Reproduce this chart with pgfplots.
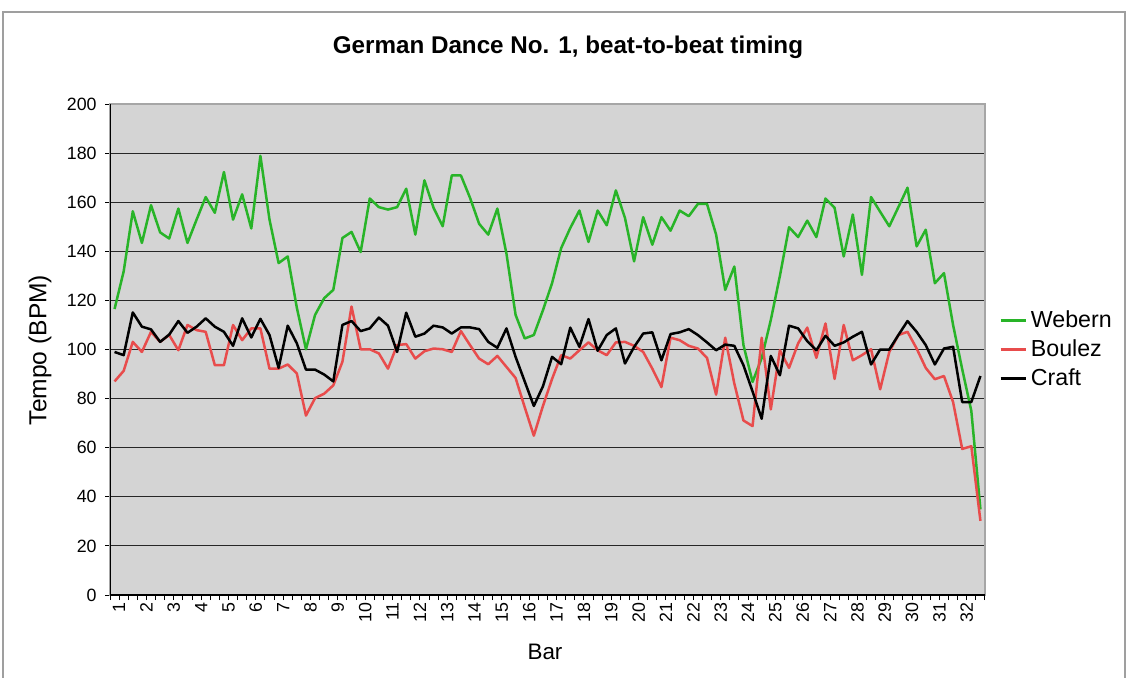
\documentclass[border=0pt]{standalone}
\usepackage{fontspec}
\setmainfont{Liberation Sans}
\usepackage{pgfplots}
\pgfplotsset{compat=1.18}
\usepackage{pgfplotstable}

\definecolor{webern}{RGB}{40,180,40}
\definecolor{boulez}{RGB}{232,76,76}
\definecolor{plotbg}{RGB}{212,212,212}

\pgfplotstableread{
i W B C
0 116.5 87.0 99.0
1 131.8 91.3 97.7
2 156.3 103.1 115.1
3 143.4 99.0 109.3
4 158.8 107.2 108.2
5 147.7 103.1 103.1
6 145.2 105.9 106.1
7 157.4 99.7 111.6
8 143.4 110.0 106.8
9 152.9 107.9 109.3
10 162.1 107.2 112.7
11 155.7 93.6 109.3
12 172.3 93.6 107.2
13 152.9 110.0 101.5
14 163.2 103.8 112.7
15 149.3 108.6 104.9
16 178.9 108.6 112.5
17 152.9 92.2 105.9
18 135.2 92.2 92.5
19 137.9 93.9 109.7
20 117.0 90.2 102.5
21 100.1 73.1 91.8
22 114.1 80.2 91.8
23 120.9 82.0 89.8
24 124.3 85.4 87.0
25 145.4 95.0 110.0
26 147.9 117.5 111.6
27 139.7 100.1 107.5
28 161.5 100.1 108.6
29 158.0 98.4 113.0
30 157.0 92.2 109.7
31 158.0 101.8 99.0
32 165.5 102.2 115.0
33 146.8 96.3 105.2
34 168.9 99.3 106.5
35 157.7 100.4 109.7
36 150.2 100.1 109.0
37 170.9 99.0 106.5
38 170.9 107.5 109.0
39 161.8 101.8 109.0
40 151.2 96.3 108.3
41 146.8 94.0 103.1
42 157.4 97.4 100.7
43 139.0 92.9 108.6
44 114.1 88.4 97.0
45 104.5 76.5 87.0
46 105.9 64.9 77.0
47 116.0 77.0 85.0
48 127.0 88.0 97.0
49 141.3 97.7 94.0
50 149.5 96.3 108.9
51 156.6 99.7 101.1
52 143.8 102.9 112.4
53 156.6 99.7 99.5
54 150.6 97.7 105.9
55 164.8 102.9 108.6
56 153.6 103.1 94.3
57 135.9 101.5 101.0
58 153.9 99.0 106.5
59 142.7 92.2 107.0
60 153.9 84.7 95.6
61 148.4 104.8 106.3
62 156.6 103.8 107.0
63 154.3 101.5 108.3
64 159.3 100.4 105.9
65 159.3 96.6 102.9
66 146.8 81.6 99.7
67 124.3 104.8 102.0
68 133.8 86.1 101.5
69 101.8 71.1 93.6
70 86.8 68.8 82.9
71 96.5 104.8 71.8
72 112.0 75.6 97.4
73 130.0 99.7 89.5
74 149.8 92.5 109.7
75 145.8 102.5 108.6
76 152.5 108.9 103.4
77 145.8 96.6 99.7
78 161.5 110.6 105.6
79 157.7 88.0 101.5
80 137.9 110.0 102.9
81 155.0 95.6 105.2
82 130.4 97.7 107.2
83 162.1 100.1 93.9
84 156.1 83.8 100.0
85 150.2 99.0 100.0
86 158.0 105.9 105.9
87 165.9 107.2 111.6
88 142.0 100.4 107.2
89 148.8 92.5 101.8
90 127.0 87.9 93.9
91 131.1 89.2 100.4
92 110.0 78.6 101.1
93 92.0 59.5 78.6
94 75.0 60.6 78.6
95 34.9 30.2 89.2
}\data

\begin{document}
\begin{tikzpicture}
\useasboundingbox (0,0) rectangle (565pt,338.5pt);
\draw[gray!75, line width=0.7pt] (1.5pt,-2pt) -- (1.5pt,332.5pt) -- (562.5pt,332.5pt) -- (562.5pt,-2pt);
\begin{axis}[
  at={(55pt,41pt)}, anchor=south west,
  scale only axis, width=437.5pt, height=245.5pt,
  xmin=-0.5, xmax=95.5, ymin=0, ymax=200,
  axis background/.style={fill=plotbg},
  axis line style={draw=gray!70, line width=0.6pt},
  ytick={0,20,...,200},
  xtick={0.5,3.5,...,93.5},
  xticklabels={1,2,3,4,5,6,7,8,9,10,11,12,13,14,15,16,17,18,19,20,21,22,23,24,25,26,27,28,29,30,31,32},
  minor xtick={-0.5,0.5,...,95.5},
  xtick pos=bottom, ytick pos=left,
  major x tick style={draw=none},
  minor x tick style={black, line width=0.5pt},
  y tick style={black, line width=0.5pt},
  tick align=outside,
  major tick length=2.5pt, minor tick length=2.5pt,
  ymajorgrids, major grid style={black!85, line width=0.55pt},
  tick label style={font=\fontsize{8.9}{10}\selectfont},
  /pgf/number format/assume math mode=true,
  x tick label style={rotate=90, anchor=east, inner sep=1pt},
  y tick label style={inner sep=1pt, xshift=-3pt},
  legend style={at={(1.016,0.5)}, anchor=west, draw=none, fill=none,
    font=\fontsize{11.6}{13}\selectfont, row sep=0.6pt, inner sep=0pt},
  legend cell align=left,
  legend image code/.code={\draw[#1] (0pt,0pt) -- (12.5pt,0pt);},
  every axis plot/.append style={line width=1.25pt, line join=round},
]
\addplot[webern, mark=none] table[x=i, y=W] {\data};
\addlegendentry{Webern}
\addplot[boulez, mark=none] table[x=i, y=B] {\data};
\addlegendentry{Boulez}
\addplot[black, mark=none] table[x=i, y=C] {\data};
\addlegendentry{Craft}
\draw[black, line width=0.6pt] (rel axis cs:0,1) -- (rel axis cs:0,0) -- (rel axis cs:1,0);
\end{axis}
\node[font=\bfseries\fontsize{12.1}{14}\selectfont] at (284pt,315pt) {German Dance No. 1, beat-to-beat timing};
\node[rotate=90, font=\fontsize{12.3}{14}\selectfont] at (20pt,163.5pt) {Tempo (BPM)};
\node[font=\fontsize{11.2}{13}\selectfont] at (272.5pt,12.5pt) {Bar};
\end{tikzpicture}
\end{document}
